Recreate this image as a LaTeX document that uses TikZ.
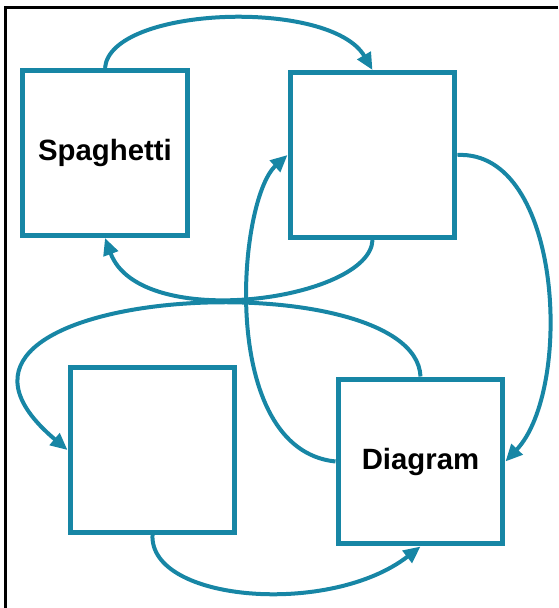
\documentclass[tikz,border=0pt]{standalone}
\usepackage{fontspec}
\setmainfont{Liberation Sans}
\usetikzlibrary{arrows.meta}
\definecolor{spagteal}{RGB}{23,134,165}
\begin{document}
\begin{tikzpicture}[x=0.02cm, y=-0.02cm,
        box/.style={rectangle, draw=spagteal, line width=0.1cm, fill=white, minimum size=3.3cm, inner sep=0pt, font=\fontsize{16.7}{20}\selectfont\bfseries},
        flow/.style={draw=spagteal, line width=0.08cm, -{Triangle[length=0.34cm,width=0.3cm]}}]
    \useasboundingbox (0,0) rectangle (558,608);
    \draw[line width=0.06cm] (558,7.5) -- (5.5,7.5) -- (5.5,608);
    % the four boxes
    \node[box] (spag) at (105,153) {Spaghetti};
    \node[box] (tr) at (372.5,155) {};
    \node[box] (bl) at (152.5,450) {};
    \node[box] (diag) at (420.5,461.5) {Diagram};
    % tangled connectors
    \draw[flow] (spag.north) .. controls +(5,-62) and +(-42,-72) .. (tr.north);
    \draw[flow] (tr.east) .. controls +(105,-5) and +(68,-72) .. (diag.east);
    \draw[flow] (tr.south) .. controls +(-2,60) and +(35,95) .. (spag.south);
    \draw[flow] (diag.north) .. controls +(-5,-120) and +(-196,-165) .. (bl.west);
    \draw[flow] (diag.west) .. controls +(-118,-12) and +(-50,45) .. (tr.west);
    \draw[flow] (bl.south) .. controls +(-3,67) and +(-90,70) .. (diag.south);
\end{tikzpicture}
\end{document}
